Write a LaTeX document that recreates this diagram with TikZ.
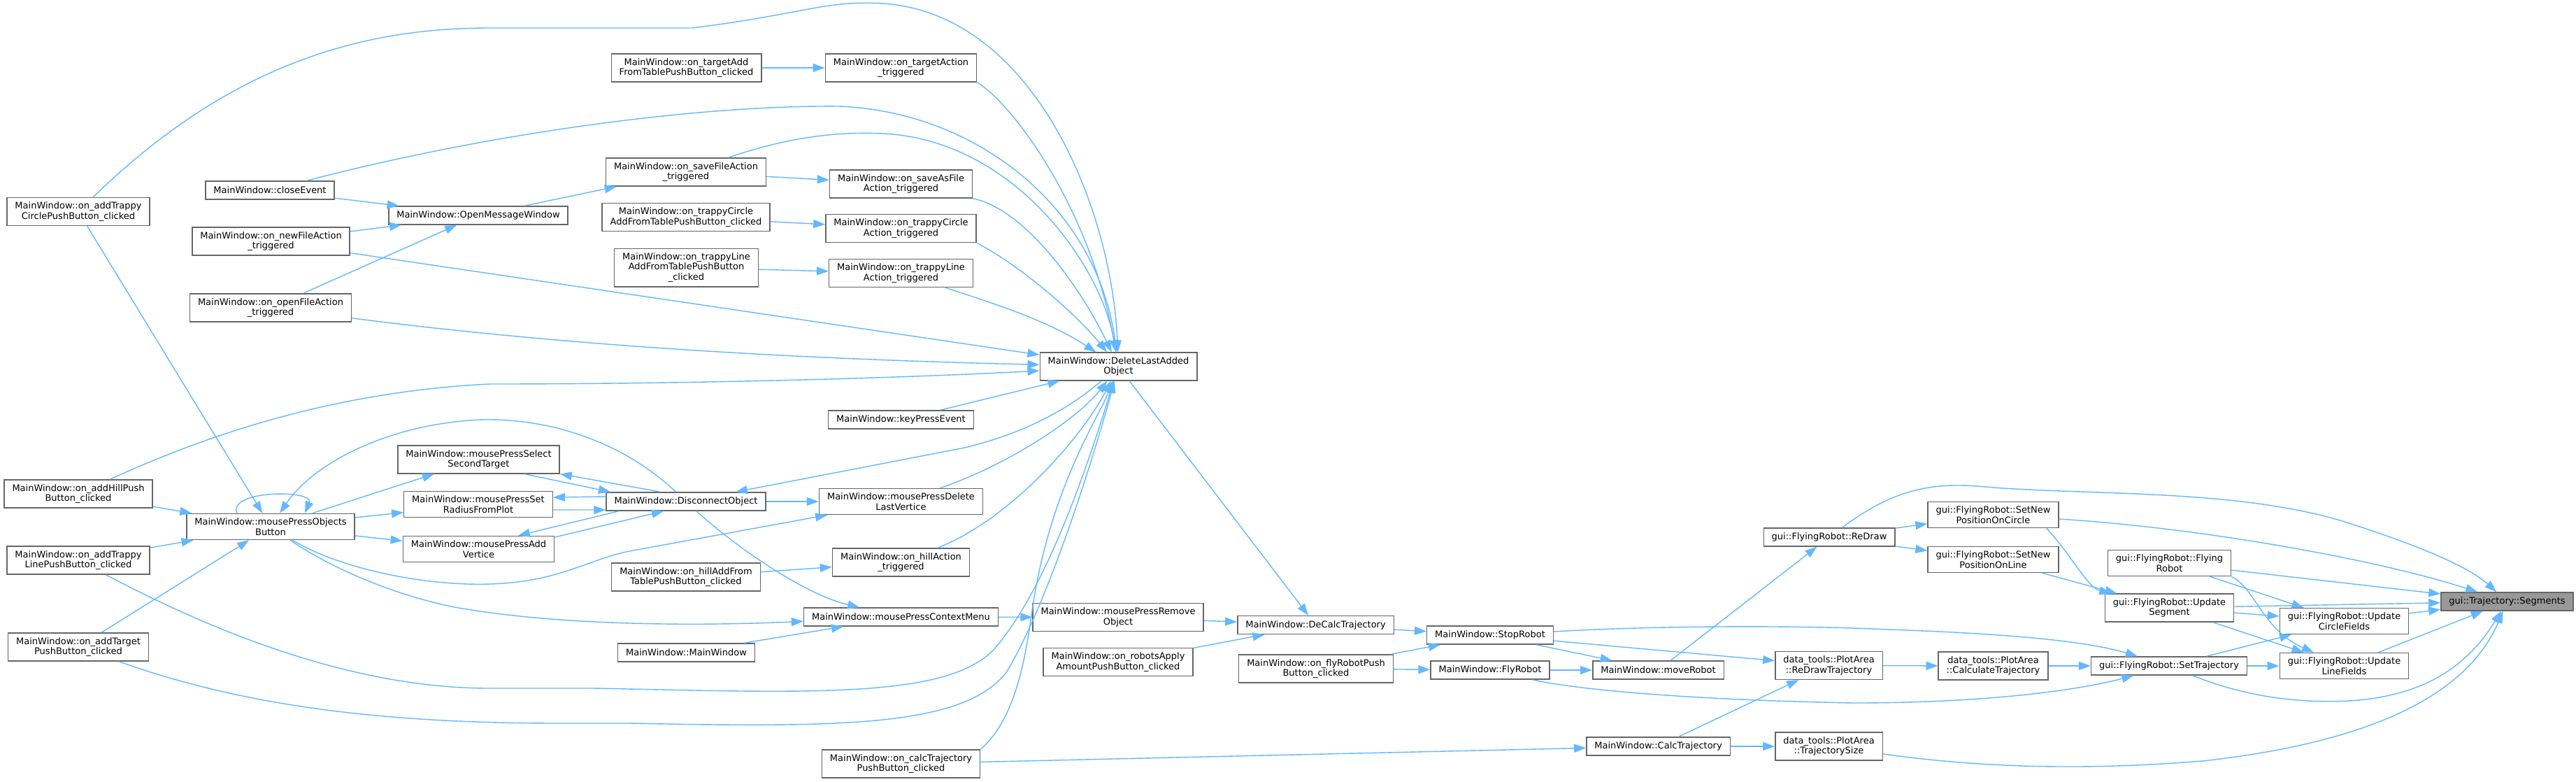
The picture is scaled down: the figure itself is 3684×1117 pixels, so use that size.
\documentclass[tikz,border=0pt]{standalone}
\usepackage{fontspec}
\setmainfont{DejaVu Sans}
\usetikzlibrary{arrows.meta}
\definecolor{edgeblue}{HTML}{63B8FF}
\definecolor{boxgray}{HTML}{666666}
\definecolor{curgray}{HTML}{999999}
\begin{document}
\begin{tikzpicture}[
    x=0.02cm, y=-0.02cm,
    fn/.style={draw=boxgray, fill=white, line width=0.8pt, align=center, inner xsep=0.23cm, inner ysep=0.125cm, minimum height=0.52cm, font=\fontsize{7.4}{8.3}\selectfont},
    cur/.style={fn, fill=curgray},
    call/.style={draw=edgeblue, line width=0.8pt, -{Triangle[length=0.34cm, width=0.24cm]}}
]
\useasboundingbox (0,0) rectangle (3684,1117);

% Buttons and actions
\node[fn] (atc) at (112,302.5) {MainWindow::on\_addTrappy\\CirclePushButton\_clicked};
\node[fn] (addhill) at (112,706) {MainWindow::on\_addHillPush\\Button\_clicked};
\node[fn] (atl) at (112,801) {MainWindow::on\_addTrappy\\LinePushButton\_clicked};
\node[fn] (addtarget) at (112,925) {MainWindow::on\_addTarget\\PushButton\_clicked};
\node[fn] (closeev) at (386,272) {MainWindow::closeEvent};
\node[fn] (newfile) at (387.5,345) {MainWindow::on\_newFileAction\\\_triggered};
\node[fn] (openfile) at (387,440) {MainWindow::on\_openFileAction\\\_triggered};
\node[fn] (openmsg) at (684,308) {MainWindow::OpenMessageWindow};
\node[fn] (objbtn) at (387,753) {MainWindow::mousePressObjects\\Button};
\node[fn] (selsecond) at (684.5,657) {MainWindow::mousePressSelect\\SecondTarget};
\node[fn] (setradius) at (684,721) {MainWindow::mousePressSet\\RadiusFromPlot};
\node[fn] (addvert) at (684.5,785) {MainWindow::mousePressAdd\\Vertice};
\node[fn] (targetadd) at (981.5,97) {MainWindow::on\_targetAdd\\FromTablePushButton\_clicked};
\node[fn] (savefile) at (981,246) {MainWindow::on\_saveFileAction\\\_triggered};
\node[fn] (trappycircleadd) at (981,310.5) {MainWindow::on\_trappyCircle\\AddFromTablePushButton\_clicked};
\node[fn] (trappylineadd) at (981.5,382.5) {MainWindow::on\_trappyLine\\AddFromTablePushButton\\\_clicked};
\node[fn] (disconnect) at (981,717) {MainWindow::DisconnectObject};
\node[fn] (hilladd) at (981,825) {MainWindow::on\_hillAddFrom\\TablePushButton\_clicked};
\node[fn] (mainwin) at (981.5,933) {MainWindow::MainWindow};
\node[fn] (targetaction) at (1288.5,97) {MainWindow::on\_targetAction\\\_triggered};
\node[fn] (saveasfile) at (1288.5,263) {MainWindow::on\_saveAsFile\\Action\_triggered};
\node[fn] (trappycircleact) at (1288.5,326.5) {MainWindow::on\_trappyCircle\\Action\_triggered};
\node[fn] (trappylineact) at (1288.5,390.5) {MainWindow::on\_trappyLine\\Action\_triggered};
\node[fn] (keypress) at (1288.5,600) {MainWindow::keyPressEvent};
\node[fn] (dellastvert) at (1288.5,717) {MainWindow::mousePressDelete\\LastVertice};
\node[fn] (hillaction) at (1288.5,804) {MainWindow::on\_hillAction\\\_triggered};
\node[fn] (ctxmenu) at (1288.5,882) {MainWindow::mousePressContextMenu};
\node[fn] (calcpush) at (1288.5,1092) {MainWindow::on\_calcTrajectory\\PushButton\_clicked};
\node[fn] (dellast) at (1599.5,524) {MainWindow::DeleteLastAdded\\Object};
\node[fn] (removeobj) at (1599,882.5) {MainWindow::mousePressRemove\\Object};
\node[fn] (robotsapply) at (1599,946.5) {MainWindow::on\_robotsApply\\AmountPushButton\_clicked};

% Robot and trajectory
\node[fn] (decalc) at (1881.5,893.5) {MainWindow::DeCalcTrajectory};
\node[fn] (flypush) at (1882,956) {MainWindow::on\_flyRobotPush\\Button\_clicked};
\node[fn] (stoprobot) at (2131,908) {MainWindow::StopRobot};
\node[fn] (flyrobot) at (2131,958) {MainWindow::FlyRobot};
\node[fn] (moverobot) at (2371.5,958) {MainWindow::moveRobot};
\node[fn] (calctraj) at (2371.5,1067) {MainWindow::CalcTrajectory};
\node[fn] (redraw) at (2616,768) {gui::FlyingRobot::ReDraw};
\node[fn] (redrawtraj) at (2615.5,951.5) {data\_tools::PlotArea\\::ReDrawTrajectory};
\node[fn] (trajsize) at (2615.5,1067) {data\_tools::PlotArea\\::TrajectorySize};
\node[fn] (posoncircle) at (2850.5,736) {gui::FlyingRobot::SetNew\\PositionOnCircle};
\node[fn] (posonline) at (2850.5,800) {gui::FlyingRobot::SetNew\\PositionOnLine};
\node[fn] (calculatetraj) at (2850.5,952) {data\_tools::PlotArea\\::CalculateTrajectory};
\node[fn] (flyingrobot) at (3102.5,805) {gui::FlyingRobot::Flying\\Robot};
\node[fn] (updseg) at (3102.5,869) {gui::FlyingRobot::Update\\Segment};
\node[fn] (settraj) at (3102,952) {gui::FlyingRobot::SetTrajectory};
\node[fn] (updcircle) at (3352.5,888) {gui::FlyingRobot::Update\\CircleFields};
\node[fn] (updline) at (3352.5,952) {gui::FlyingRobot::Update\\LineFields};
\node[cur] (segments) at (3585.5,860) {gui::Trajectory::Segments};

% Calls into DeleteLastAddedObject
\draw[call] (atc) .. controls (330,90) and (520,40) .. (700,40) -- (990,40) .. controls (1150,20) and (1180,0) .. (1263,5) .. controls (1480,20) and (1590,300) .. (dellast);
\draw[call] (targetaction.south east) .. controls (1450,150) and (1560,300) .. (dellast);
\draw[call] (closeev) .. controls (700,190) and (1000,150) .. (1200,152) .. controls (1400,160) and (1570,300) .. (dellast);
\draw[call] (savefile) .. controls (1130,195) and (1200,188) .. (1263,191) .. controls (1450,200) and (1575,380) .. (dellast);
\draw[call] (saveasfile.south east) .. controls (1470,300) and (1550,420) .. (dellast);
\draw[call] (trappycircleact.south east) .. controls (1460,380) and (1540,450) .. (dellast);
\draw[call] (trappylineact) .. controls (1440,440) and (1500,460) .. (dellast);
\draw[call] (newfile) -- (dellast);
\draw[call] (openfile) .. controls (700,480) and (1000,510) .. (dellast);
\draw[call] (addhill) .. controls (300,620) and (480,560) .. (700,549) .. controls (1000,549) and (1300,540) .. (dellast);
\draw[call] (keypress) -- (dellast);
\draw[call] (atl) .. controls (300,900) and (500,984) .. (700,984) -- (850,984) .. controls (1150,990) and (1350,1000) .. (1420,930) .. controls (1500,840) and (1560,650) .. (dellast);
\draw[call] (addtarget) .. controls (350,1010) and (550,1034) .. (800,1034) -- (900,1034) .. controls (1200,1040) and (1380,1040) .. (1440,960) .. controls (1500,860) and (1565,650) .. (dellast);
\draw[call] (calcpush.north east) .. controls (1450,1030) and (1465,950) .. (1475,880) .. controls (1500,700) and (1570,600) .. (dellast);
\draw[call] (dellastvert) .. controls (1440,665) and (1540,600) .. (dellast);
\draw[call] (hillaction) .. controls (1450,740) and (1550,620) .. (dellast);
\draw[call] (dellast) .. controls (1510,600) and (1440,625) .. (1380,640) -- (disconnect);
\draw[call] (dellast) -- (decalc);

% Message window and menu actions
\draw[call] (closeev) -- (openmsg);
\draw[call] (newfile) -- (openmsg);
\draw[call] (openfile) -- (openmsg);
\draw[call] (openmsg) -- (savefile);
\draw[call] (targetadd) -- (targetaction);
\draw[call] (savefile) -- (saveasfile);
\draw[call] (trappycircleadd) -- (trappycircleact);
\draw[call] (trappylineadd) -- (trappylineact);
\draw[call] (hilladd) -- (hillaction);

% Mouse handlers
\draw[call] (addhill) -- (objbtn);
\draw[call] (atl) -- (objbtn);
\draw[call] (addtarget) -- (objbtn);
\draw[call] (atc) -- (objbtn);
\draw[call] ([xshift=-0.96cm]objbtn.north) .. controls (325,700) and (450,700) .. ([xshift=0.98cm]objbtn.north);
\draw[call] (disconnect) .. controls (900,640) and (800,598) .. (690,600) .. controls (560,605) and (450,660) .. (objbtn);
\draw[call] (objbtn) -- (selsecond);
\draw[call] (objbtn) -- (setradius);
\draw[call] (objbtn) -- (addvert);
\draw[call] ([xshift=1.3cm]selsecond.south) -- ([xshift=-2.16cm]disconnect.north);
\draw[call] ([xshift=-0.72cm]disconnect.north) -- (selsecond.south east);
\draw[call] ([yshift=0.14cm]disconnect.west) -- ([yshift=0.2cm]setradius.east);
\draw[call] ([yshift=-0.16cm]setradius.east) -- ([yshift=-0.24cm]disconnect.west);
\draw[call] ([xshift=-1.92cm]disconnect.south) -- ([xshift=1.13cm]addvert.north);
\draw[call] ([yshift=0.34cm]addvert.east) -- ([xshift=-0.64cm]disconnect.south);
\draw[call] (disconnect) -- (dellastvert);
\draw[call] (disconnect) .. controls (1050,780) and (1150,850) .. (ctxmenu);
\draw[call] (objbtn) .. controls (480,810) and (600,838) .. (700,835) .. controls (800,832) and (840,800) .. (900,788) -- (dellastvert);
\draw[call] (objbtn) .. controls (470,810) and (560,850) .. (650,868) .. controls (800,895) and (1000,895) .. (ctxmenu);
\draw[call] (mainwin) -- (ctxmenu);
\draw[call] (ctxmenu) -- (removeobj);

% Robot calls
\draw[call] (removeobj) -- (decalc);
\draw[call] (robotsapply) -- (decalc);
\draw[call] (decalc) -- (stoprobot);
\draw[call] (flypush) -- (stoprobot);
\draw[call] (flypush) -- (flyrobot);
\draw[call] (flyrobot) -- (moverobot);
\draw[call] (stoprobot) -- (moverobot);
\draw[call] (stoprobot) -- (redrawtraj);
\draw[call] (stoprobot) .. controls (2400,893) and (2600,895) .. (2700,900) .. controls (2850,905) and (2980,915) .. (settraj);
\draw[call] (flyrobot) .. controls (2250,985) and (2400,1000) .. (2650,1005) .. controls (2850,1005) and (2980,985) .. (settraj);
\draw[call] (moverobot) -- (redraw);
\draw[call] (calctraj) -- (redrawtraj);
\draw[call] (calctraj) -- (trajsize);
\draw[call] (calcpush) -- (calctraj);
\draw[call] (redrawtraj) -- (calculatetraj);
\draw[call] (calculatetraj) -- (settraj);
\draw[call] (redraw) -- (posoncircle);
\draw[call] (redraw) -- (posonline);

% Into Segments
\draw[call] (redraw) .. controls (2720,690) and (2780,690) .. (2850,697) .. controls (3000,708) and (3200,700) .. (3350,745) .. controls (3460,780) and (3530,810) .. (segments);
\draw[call] (posoncircle) .. controls (3150,755) and (3400,800) .. (segments);
\draw[call] ([xshift=-0.36cm]posoncircle.south east) .. controls (2960,790) and (2985,840) .. (updseg);
\draw[call] (posonline) -- (updseg);
\draw[call] (flyingrobot) -- (segments);
\draw[call] (flyingrobot) -- (updcircle);
\draw[call] (flyingrobot.south east) .. controls (3225,840) and (3235,900) .. (updline);
\draw[call] (updseg) -- (segments);
\draw[call] (updseg) -- (updcircle);
\draw[call] (updseg) -- (updline);
\draw[call] (updcircle) -- (segments);
\draw[call] (updline) -- (segments);
\draw[call] (settraj) -- (updcircle);
\draw[call] (settraj) -- (updline);
\draw[call] (settraj) .. controls (3220,1000) and (3300,1005) .. (3360,1002) .. controls (3470,995) and (3530,950) .. (segments);
\draw[call] (trajsize) .. controls (2850,1100) and (3000,1100) .. (3150,1088) .. controls (3400,1060) and (3530,990) .. (segments);

\end{tikzpicture}
\end{document}
